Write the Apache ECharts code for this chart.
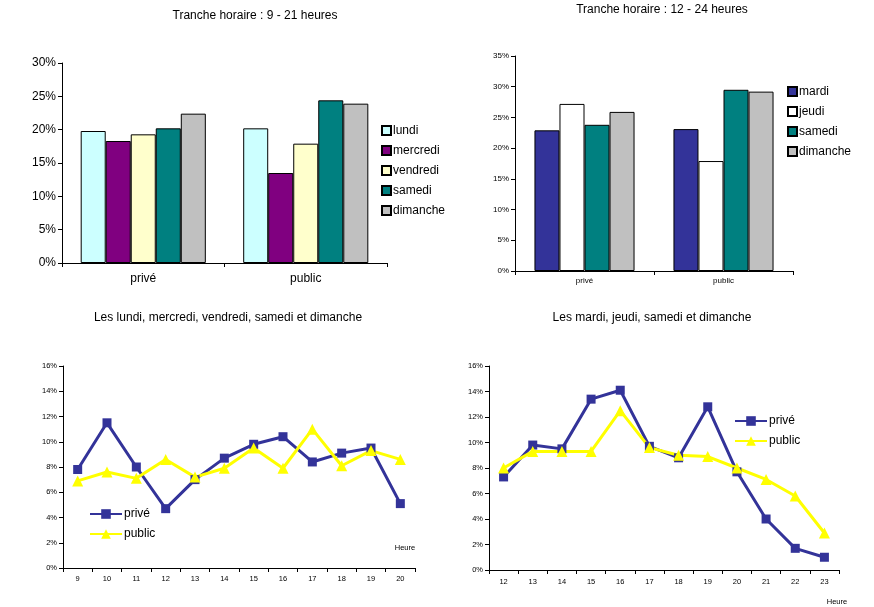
<!DOCTYPE html>
<html><head><meta charset="utf-8">
<script src="https://cdn.jsdelivr.net/npm/echarts@6/dist/echarts.min.js"></script>
<style>html,body{margin:0;padding:0;background:#fff}#c{width:874px;height:607px}</style>
</head><body><div id="c"></div>
<script>
// ---- data ----
const sectors = ['privé', 'public'];
const days1 = ['lundi', 'mercredi', 'vendredi', 'samedi', 'dimanche'];
const lundi = [19.8, 20.2];
const mercredi = [18.3, 13.5];
const vendredi = [19.3, 17.9];
const samedi1 = [20.2, 24.4];
const dimanche1 = [22.4, 23.9];

const days2 = ['mardi', 'jeudi', 'samedi', 'dimanche'];
const mardi = [22.9, 23.1];
const jeudi = [27.2, 17.9];
const samedi2 = [23.8, 29.5];
const dimanche2 = [25.9, 29.2];

const hours1 = ['9', '10', '11', '12', '13', '14', '15', '16', '17', '18', '19', '20'];
const prive1 = [7.8, 11.5, 8.0, 4.7, 7.0, 8.7, 9.8, 10.4, 8.4, 9.1, 9.5, 5.1];
const public1 = [6.9, 7.6, 7.1, 8.6, 7.2, 7.9, 9.5, 7.9, 11.0, 8.1, 9.3, 8.6];

const hours2 = ['12', '13', '14', '15', '16', '17', '18', '19', '20', '21', '22', '23'];
const prive2 = [7.3, 9.8, 9.5, 13.4, 14.1, 9.7, 8.8, 12.8, 7.7, 4.0, 1.7, 1.0];
const public2 = [8.0, 9.3, 9.3, 9.3, 12.5, 9.6, 9.0, 8.9, 8.0, 7.1, 5.8, 2.9];

const titles = ['Tranche horaire : 9 - 21 heures', 'Tranche horaire : 12 - 24 heures',
  'Les lundi, mercredi, vendredi, samedi et dimanche', 'Les mardi, jeudi, samedi et dimanche'];

// ---- styles ----
const FONT = 'Liberation Sans, Arial, sans-serif';
const colors1 = ['#CCFFFF', '#800080', '#FFFFCC', '#008080', '#C0C0C0'];
const colors2 = ['#333399', '#FFFFFF', '#008080', '#C0C0C0'];
const axisLine = { show: true, lineStyle: { color: '#000', width: 1 } };

function catAxis(idx, data, size, margin) {
  return { type: 'category', gridIndex: idx, data: data,
    axisLine: axisLine, axisTick: { show: true, length: 4, lineStyle: { color: '#000' } },
    axisLabel: { fontFamily: FONT, fontSize: size, color: '#000', margin: margin },
    splitLine: { show: false } };
}
function valAxis(idx, max, interval, size) {
  return { type: 'value', gridIndex: idx, min: 0, max: max, interval: interval,
    axisLine: axisLine, axisTick: { show: true, length: 4, lineStyle: { color: '#000' } },
    axisLabel: { fontFamily: FONT, fontSize: size, color: '#000', margin: 6, formatter: '{value}%' },
    splitLine: { show: false } };
}

const series = [];
const d1 = [lundi, mercredi, vendredi, samedi1, dimanche1];
days1.forEach((n, i) => series.push({ type: 'bar', name: n, xAxisIndex: 0, yAxisIndex: 0, data: d1[i],
  barGap: '0%', barCategoryGap: '23%', itemStyle: { color: colors1[i], borderColor: '#000', borderWidth: 1 } }));
const d2 = [mardi, jeudi, samedi2, dimanche2];
days2.forEach((n, i) => series.push({ type: 'bar', name: n + ' ', xAxisIndex: 1, yAxisIndex: 1, data: d2[i],
  barGap: '0%', barCategoryGap: '28%', itemStyle: { color: colors2[i], borderColor: '#000', borderWidth: 1 } }));

function lineSeries(name, idx, data, color, symbol, size) {
  return { type: 'line', name: name, xAxisIndex: idx, yAxisIndex: idx, data: data,
    symbol: symbol, symbolSize: size, showSymbol: true,
    lineStyle: { color: color, width: 3 }, itemStyle: { color: color } };
}
series.push(lineSeries('privé', 2, prive1, '#333399', 'rect', 9));
series.push(lineSeries('public', 2, public1, '#FFFF00', 'triangle', 11));
series.push(lineSeries('privé ', 3, prive2, '#333399', 'rect', 9));
series.push(lineSeries('public ', 3, public2, '#FFFF00', 'triangle', 11));

function barLegend(names, left, top) {
  return { orient: 'vertical', left: left, top: top, data: names, icon: 'rect',
    itemWidth: 9, itemHeight: 9, itemGap: 7,
    textStyle: { fontFamily: FONT, fontSize: 12, color: '#000', padding: [0, 0, 0, -3], lineHeight: 13 } };
}
function lineLegend(names, left, top) {
  return { orient: 'vertical', left: left, top: top, data: names,
    itemWidth: 32, itemHeight: 12, itemGap: 8,
    textStyle: { fontFamily: FONT, fontSize: 12, color: '#000', padding: [0, 0, 0, -3] } };
}

function txt(s, x, y, size) {
  return { type: 'text', x: x, y: y, style: { text: s, fontFamily: FONT, fontSize: size, fill: '#000',
    textAlign: 'center', textVerticalAlign: 'middle' } };
}

const option = {
  animation: false,
  grid: [
    { left: 62, top: 63, width: 325, height: 200 },
    { left: 515, top: 56, width: 278, height: 215 },
    { left: 63, top: 366, width: 352, height: 202 },
    { left: 489, top: 366, width: 350, height: 204 }
  ],
  xAxis: [catAxis(0, sectors, 12, 10), catAxis(1, sectors, 8, 6), catAxis(2, hours1, 7.5, 7), catAxis(3, hours2, 7.5, 8)],
  yAxis: [valAxis(0, 30, 5, 12), valAxis(1, 35, 5, 8), valAxis(2, 16, 2, 7.5), valAxis(3, 16, 2, 7.5)],
  legend: [
    barLegend(days1, 376, 119),
    barLegend(days2.map(n => n + ' '), 782, 80),
    lineLegend(['privé', 'public'], 84, 503),
    lineLegend(['privé ', 'public '], 729, 410)
  ],
  graphic: [
    txt(titles[0], 255, 16, 12),
    txt(titles[1], 662, 10, 12),
    txt(titles[2], 228, 318, 12),
    txt(titles[3], 652, 318, 12),
    txt('Heure', 405, 548, 7.5),
    txt('Heure', 837, 602, 7.5)
  ],
  series: series
};
const chart = echarts.init(document.getElementById('c'), null, { renderer: 'canvas' });
chart.setOption(option);
</script></body></html>
